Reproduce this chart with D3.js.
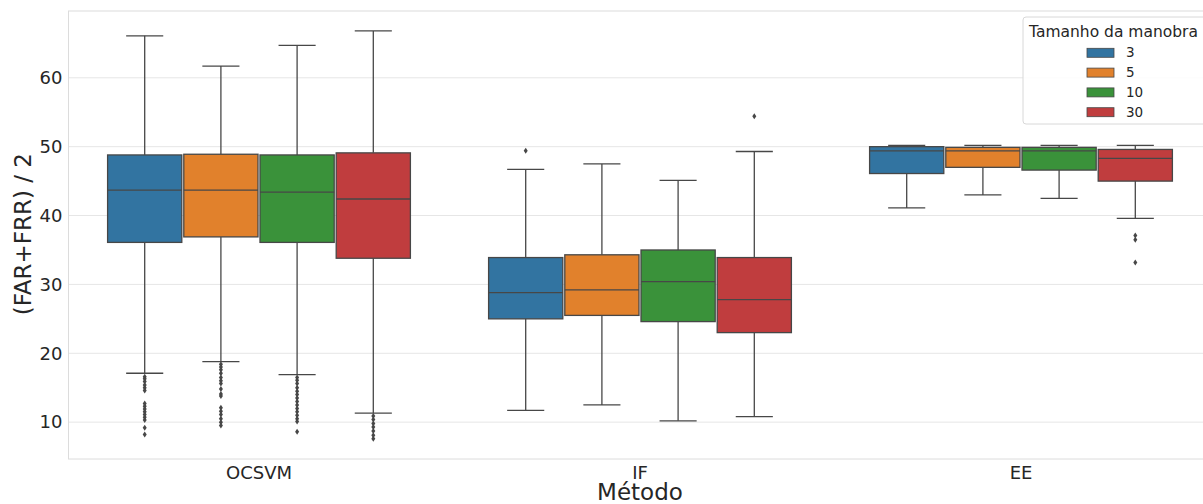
<!DOCTYPE html>
<html>
<head>
<meta charset="utf-8">
<script src="https://cdn.jsdelivr.net/npm/d3@7"></script>
<style>
  body { margin: 0; background: #fff; }
  svg text { font-family: "DejaVu Sans", sans-serif; fill: #262626; }
</style>
</head>
<body>
<svg width="1203" height="504"></svg>
<script>
// categories
const methods = ["OCSVM", "IF", "EE"];
const sizes = ["3", "5", "10", "30"];
const colors = ["#3274a1", "#e1812c", "#3a923a", "#c03d3e"];
const yTicks = [10, 20, 30, 40, 50, 60];

// box stats per method, one value per size (3, 5, 10, 30)
const whiskerLow = [[17.1, 18.8, 16.9, 11.3], [11.7, 12.5, 10.2, 10.8], [41.1, 43.0, 42.5, 39.6]];
const q1 = [[36.1, 36.9, 36.1, 33.8], [25.0, 25.5, 24.6, 23.0], [46.1, 47.0, 46.6, 45.0]];
const median = [[43.7, 43.7, 43.4, 42.4], [28.8, 29.2, 30.4, 27.8], [49.4, 49.4, 49.4, 48.3]];
const q3 = [[48.8, 48.9, 48.8, 49.1], [33.9, 34.3, 35.0, 33.9], [50.0, 49.9, 49.9, 49.6]];
const whiskerHigh = [[66.1, 61.7, 64.7, 66.8], [46.7, 47.5, 45.1, 49.3], [50.2, 50.2, 50.2, 50.2]];
const outliers = [
  [
    [16.6, 16.3, 15.9, 15.4, 15.0, 14.6, 12.7, 12.3, 11.9, 11.5, 11.1, 10.7, 10.3, 9.2, 8.2],
    [18.4, 18.0, 17.6, 17.1, 16.5, 16.0, 15.6, 14.8, 14.1, 13.8, 12.1, 11.6, 11.1, 10.5, 10.0, 9.5],
    [16.5, 16.1, 15.6, 15.0, 14.5, 14.0, 13.5, 13.0, 12.5, 12.0, 11.5, 11.0, 10.5, 10.1, 8.6],
    [10.9, 10.4, 9.8, 9.3, 8.7, 8.1, 7.6]
  ],
  [[49.4], [], [], [54.4]],
  [[], [], [], [37.1, 36.5, 33.2]]
];

const svg = d3.select("svg");
const margin = {top: 11, left: 68.5, bottom: 459};
const plotRight = 1211.5;

const y = d3.scaleLinear().domain([4.65, 69.7]).range([margin.bottom, margin.top]);
const x = d3.scaleBand().domain(methods).range([margin.left, plotRight]);
const xHue = d3.scaleBand().domain(sizes).range([0.1 * x.bandwidth(), 0.9 * x.bandwidth()]);

// grid
svg.append("g").selectAll("line").data(yTicks).join("line")
  .attr("x1", margin.left).attr("x2", plotRight)
  .attr("y1", d => y(d)).attr("y2", d => y(d))
  .attr("stroke", "#e6e6e6").attr("stroke-width", 1);

// frame
svg.append("rect")
  .attr("x", margin.left).attr("y", margin.top)
  .attr("width", plotRight - margin.left).attr("height", margin.bottom - margin.top)
  .attr("fill", "none").attr("stroke", "#dcdcdc").attr("stroke-width", 1);

// y axis
const yAxis = svg.append("g")
  .attr("transform", `translate(${margin.left},0)`)
  .call(d3.axisLeft(y).tickValues(yTicks).tickSize(0).tickPadding(6));
yAxis.select(".domain").remove();
yAxis.selectAll("text").attr("font-size", 18).attr("fill", "#262626");

// x axis
const xAxis = svg.append("g")
  .attr("transform", `translate(0,${margin.bottom})`)
  .call(d3.axisBottom(x).tickSize(0).tickPadding(7));
xAxis.select(".domain").remove();
xAxis.selectAll("text").attr("font-size", 18).attr("fill", "#262626");

// axis titles
svg.append("text")
  .attr("x", x("IF") + x.bandwidth() / 2)
  .attr("y", 500).attr("text-anchor", "middle").attr("font-size", 23)
  .text("Método");
svg.append("text")
  .attr("transform", `translate(31,${y(37.3)}) rotate(-90)`)
  .attr("text-anchor", "middle").attr("font-size", 23)
  .text("(FAR+FRR) / 2");

// boxes
const lineColor = "#474747";
const boxW = xHue.bandwidth() - 2;
methods.forEach((m, i) => {
  sizes.forEach((s, j) => {
    const cx = x(m) + xHue(s) + xHue.bandwidth() / 2;
    const g = svg.append("g");
    // whiskers
    g.append("line").attr("x1", cx).attr("x2", cx)
      .attr("y1", y(q3[i][j])).attr("y2", y(whiskerHigh[i][j]))
      .attr("stroke", lineColor).attr("stroke-width", 1.3);
    g.append("line").attr("x1", cx).attr("x2", cx)
      .attr("y1", y(q1[i][j])).attr("y2", y(whiskerLow[i][j]))
      .attr("stroke", lineColor).attr("stroke-width", 1.3);
    [whiskerHigh[i][j], whiskerLow[i][j]].forEach(v => {
      g.append("line").attr("x1", cx - boxW / 4).attr("x2", cx + boxW / 4)
        .attr("y1", y(v)).attr("y2", y(v))
        .attr("stroke", lineColor).attr("stroke-width", 1.3);
    });
    // box
    g.append("rect")
      .attr("x", cx - boxW / 2).attr("width", boxW)
      .attr("y", y(q3[i][j])).attr("height", y(q1[i][j]) - y(q3[i][j]))
      .attr("fill", colors[j]).attr("stroke", lineColor).attr("stroke-width", 1.3);
    // median
    g.append("line").attr("x1", cx - boxW / 2).attr("x2", cx + boxW / 2)
      .attr("y1", y(median[i][j])).attr("y2", y(median[i][j]))
      .attr("stroke", lineColor).attr("stroke-width", 1.3);
    // outliers (diamonds)
    g.selectAll("path").data(outliers[i][j]).join("path")
      .attr("d", d => `M${cx},${y(d) - 3}L${cx + 2},${y(d)}L${cx},${y(d) + 3}L${cx - 2},${y(d)}Z`)
      .attr("fill", lineColor);
  });
});

// legend
const legend = svg.append("g").attr("transform", "translate(1023,17)");
legend.append("rect")
  .attr("x", 0).attr("y", 0).attr("width", 200).attr("height", 107).attr("rx", 3)
  .attr("fill", "#fff").attr("fill-opacity", 0.85)
  .attr("stroke", "#d8d8d8").attr("stroke-width", 1);
legend.append("text")
  .attr("x", 6).attr("y", 20).attr("font-size", 15.5)
  .text("Tamanho da manobra");
sizes.forEach((s, j) => {
  const ly = 35.3 + j * 19.8;
  legend.append("rect")
    .attr("x", 64).attr("y", ly - 4).attr("width", 27).attr("height", 9)
    .attr("fill", colors[j]).attr("stroke", lineColor).attr("stroke-width", 0.8);
  legend.append("text")
    .attr("x", 103).attr("y", ly + 5).attr("font-size", 13.5)
    .text(s);
});
</script>
</body>
</html>
